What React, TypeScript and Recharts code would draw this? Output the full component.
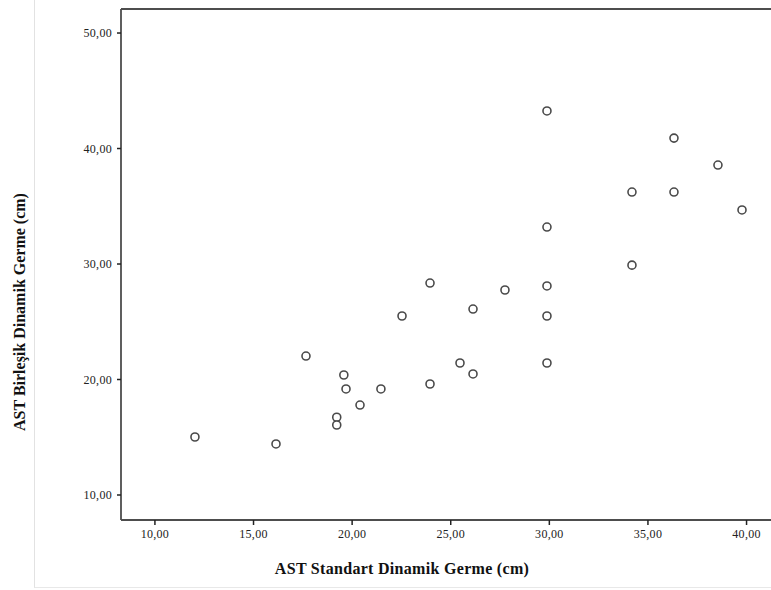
import { ReferenceLine, Scatter, ScatterChart, XAxis, YAxis } from "recharts";

const standartValues = [
  12.03, 16.14, 17.66, 19.58, 19.69, 19.22, 19.22, 20.4, 21.46, 22.53, 23.95,
  23.95, 25.47, 26.13, 26.13, 27.75, 29.88, 29.88, 29.88, 29.88, 29.88, 34.19,
  34.19, 36.32, 36.32, 38.55, 39.77,
];
const birlesikValues = [
  15.02, 14.42, 22.03, 20.39, 19.18, 16.73, 16.06, 17.79, 19.18, 25.5, 28.35,
  19.61, 21.43, 26.1, 20.48, 27.75, 43.25, 33.2, 28.1, 25.5, 21.43, 36.23, 29.9,
  40.9, 36.23, 38.57, 34.68,
];
const xTicks = [10, 15, 20, 25, 30, 35, 40];
const yTicks = [10, 20, 30, 40, 50];

const X_DOMAIN: [number, number] = [8.28, 41.24];
const Y_DOMAIN: [number, number] = [7.835, 52.08];

const points = standartValues.map((x, i) => ({ x, y: birlesikValues[i] }));

const fmt = (v: number) => v.toFixed(2).replace(".", ",");

const axisColor = "#4d4d4d";
const tickStyle = {
  fontSize: 12,
  fontFamily: "Liberation Serif",
  fill: "#222",
  letterSpacing: 0.3,
};

const Ring = (props: any) => (
  <circle
    cx={props.cx}
    cy={props.cy}
    r={4}
    fill="#fff"
    stroke="#4a4a4a"
    strokeWidth={1.6}
  />
);

const App = () => {
  return (
    <div
      style={{
        position: "absolute",
        left: 0,
        top: 0,
        width: 771,
        height: 590,
        background: "#fff",
      }}
    >
      <div
        style={{
          position: "absolute",
          left: 34,
          top: 0,
          width: 737,
          height: 587,
          borderLeft: "1px solid #e2e2e2",
          borderBottom: "1px solid #e8e8e8",
        }}
      />
      <ScatterChart
        width={771}
        height={590}
        margin={{ top: 9, right: 0, bottom: 40, left: 61 }}
        style={{ position: "absolute", left: 0, top: 0 }}
      >
        <XAxis
          type="number"
          dataKey="x"
          domain={X_DOMAIN}
          ticks={xTicks}
          tickFormatter={fmt}
          allowDataOverflow
          height={30}
          tickSize={5}
          tickMargin={4}
          tick={tickStyle}
          axisLine={{ stroke: axisColor, strokeWidth: 1.8 }}
          tickLine={{ stroke: "#222", strokeWidth: 1.5 }}
        />
        <YAxis
          type="number"
          dataKey="y"
          domain={Y_DOMAIN}
          ticks={yTicks}
          tickFormatter={fmt}
          allowDataOverflow
          width={60}
          tickSize={4}
          tickMargin={5}
          tick={tickStyle}
          axisLine={{ stroke: axisColor, strokeWidth: 1.8 }}
          tickLine={{ stroke: "#222", strokeWidth: 1.5 }}
        />
        <ReferenceLine y={Y_DOMAIN[1]} stroke={axisColor} strokeWidth={1.8} />
        <Scatter data={points} shape={Ring} isAnimationActive={false} />
      </ScatterChart>
      <svg
        width={771}
        height={590}
        style={{ position: "absolute", left: 0, top: 0, pointerEvents: "none" }}
      >
        <text
          x={402}
          y={574}
          textAnchor="middle"
          fontFamily="Liberation Serif"
          fontWeight="bold"
          fontSize={16}
          letterSpacing={0.3}
          fill="#111"
        >
          AST Standart Dinamik Germe (cm)
        </text>
        <text
          transform="translate(25,312) rotate(-90)"
          textAnchor="middle"
          fontFamily="Liberation Serif"
          fontWeight="bold"
          fontSize={16}
          fill="#111"
        >
          AST Birleşik Dinamik Germe (cm)
        </text>
      </svg>
    </div>
  );
};

export default App;
